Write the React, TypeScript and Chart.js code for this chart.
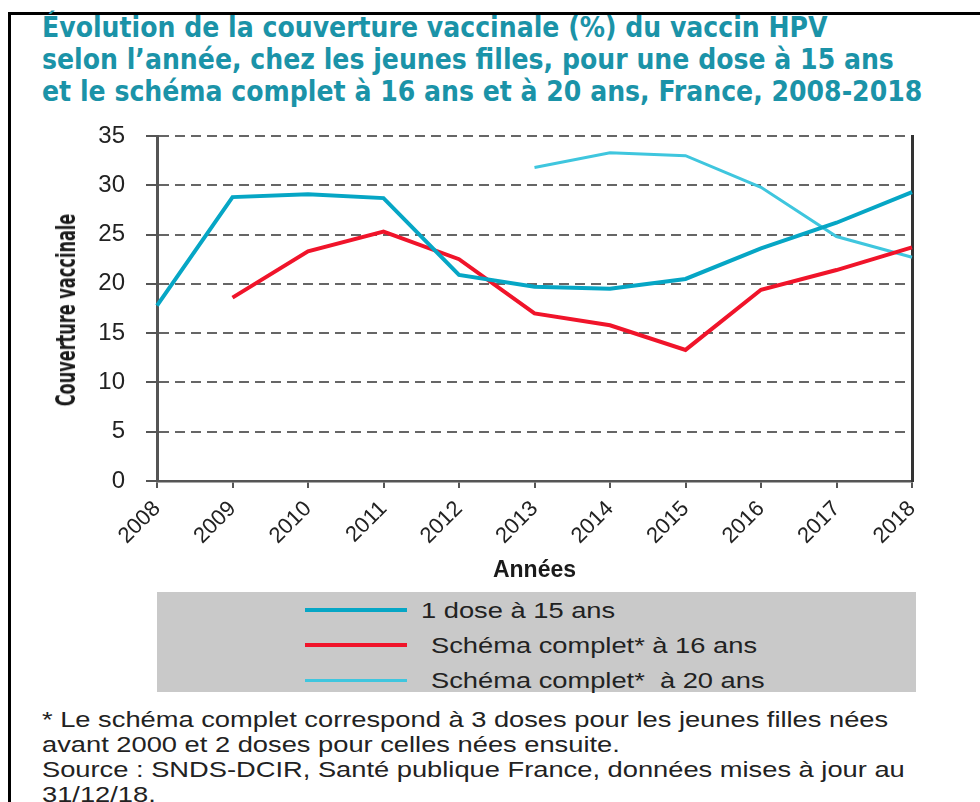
import React, { useEffect, useRef } from "react";
import { Chart, registerables } from "chart.js";

Chart.register(...registerables);

const years = ["2008", "2009", "2010", "2011", "2012", "2013", "2014", "2015", "2016", "2017", "2018"];
const dose15 = [17.8, 28.8, 29.1, 28.7, 20.9, 19.7, 19.5, 20.5, 23.6, 26.2, 29.3];
const complet16 = [null, 18.6, 23.3, 25.3, 22.5, 17.0, 15.8, 13.3, 19.4, 21.4, 23.7];
const complet20 = [null, null, null, null, null, 31.8, 33.3, 33.0, 29.8, 24.8, 22.7];
const seriesLabels = ["1 dose à 15 ans", "Schéma complet* à 16 ans", "Schéma complet*  à 20 ans"];
const seriesColors = ["#06a6c5", "#f0142a", "#3fc6de"];
const seriesWidths = [4, 4, 3];
const titleLines = [
  "Évolution de la couverture vaccinale (%) du vaccin HPV",
  "selon l’année, chez les jeunes filles, pour une dose à 15 ans",
  "et le schéma complet à 16 ans et à 20 ans, France, 2008-2018",
];
const noteLines = [
  "* Le schéma complet correspond à 3 doses pour les jeunes filles nées",
  "avant 2000 et 2 doses pour celles nées ensuite.",
  "Source : SNDS-DCIR, Santé publique France, données mises à jour au",
  "31/12/18.",
];
const yTitle = "Couverture vaccinale";
const xTitle = "Années";

const NARROW = "'Liberation Sans Narrow', 'DejaVu Sans Condensed', 'Liberation Sans', Arial, sans-serif";
const SANS = "'Liberation Sans', Arial, sans-serif";

export default function App() {
  const ref = useRef<HTMLCanvasElement | null>(null);

  useEffect(() => {
    if (!ref.current) return;
    const chart = new Chart(ref.current, {
      type: "line",
      data: {
        labels: years,
        datasets: [dose15, complet16, complet20].map((d, i) => ({
          label: seriesLabels[i],
          data: d,
          borderColor: seriesColors[i],
          backgroundColor: seriesColors[i],
          borderWidth: seriesWidths[i],
          pointRadius: 0,
          tension: 0,
          fill: false,
          spanGaps: false,
          yAxisID: "y",
        })),
      },
      options: {
        animation: false,
        responsive: false,
        maintainAspectRatio: false,
        layout: { padding: { top: 26, right: 68, left: 0, bottom: 0 } },
        plugins: { legend: { display: false }, tooltip: { enabled: false } },
        scales: {
          x: {
            offset: false,
            grid: {
              drawOnChartArea: false,
              drawTicks: true,
              tickLength: 7,
              tickColor: "#555",
              lineWidth: 2,
            },
            border: { display: true, color: "#555", width: 2.5 },
            ticks: {
              minRotation: 45,
              maxRotation: 45,
              padding: 8,
              color: "#222",
              font: { family: SANS, size: 22 },
              autoSkip: false,
            },
            title: {
              display: true,
              text: xTitle,
              color: "#1a1a1a",
              font: { family: SANS, size: 23, weight: "bold" },
              padding: { top: 0, bottom: 6 },
            },
            afterFit: (s: any) => {
              s.height = 109;
            },
          },
          y: {
            position: "left",
            min: 0,
            max: 35,
            ticks: {
              stepSize: 5,
              padding: 21,
              color: "#222",
              font: { family: SANS, size: 24 },
            },
            grid: {
              color: "#666",
              lineWidth: 2,
              tickBorderDash: [],
              tickColor: "#555",
              tickLength: 11,
            },
            border: { display: true, color: "#555", width: 3, dash: [10, 6], dashOffset: 0 },
            title: { display: false },
            afterFit: (s: any) => {
              s.width = 157;
              s.paddingTop = 0;
              s.paddingBottom = 0;
            },
          },
          y2: {
            position: "right",
            min: 0,
            max: 35,
            ticks: { display: false },
            grid: { drawOnChartArea: false, drawTicks: false },
            border: { display: true, color: "#333", width: 3 },
            afterFit: (s: any) => {
              s.width = 0;
              s.paddingTop = 0;
              s.paddingBottom = 0;
            },
          },
        },
      },
    });
    return () => chart.destroy();
  }, []);

  return (
    <div style={{ position: "absolute", left: 0, top: 0, width: 980, height: 802, background: "#fff", overflow: "hidden" }}>
      <div
        style={{
          position: "absolute",
          left: 8,
          top: 12,
          width: 990,
          height: 800,
          borderTop: "3px solid #000",
          borderLeft: "3px solid #000",
        }}
      />
      <div
        style={{
          position: "absolute",
          left: 42,
          top: 12,
          fontFamily: NARROW,
          fontWeight: "bold",
          fontSize: 28,
          lineHeight: "32px",
          color: "#1b93a8",
          whiteSpace: "nowrap",
        }}
      >
        {titleLines.map((t, i) => (
          <div key={i}>{t}</div>
        ))}
      </div>
      <canvas ref={ref} width={980} height={480} style={{ position: "absolute", left: 0, top: 110, width: 980, height: 480 }} />
      <div
        style={{
          position: "absolute",
          left: 66,
          top: 310,
          width: 0,
          height: 0,
        }}
      >
        <div
          style={{
            position: "absolute",
            left: 0,
            top: 0,
            transform: "translate(-50%, -50%) rotate(-90deg) scaleX(0.69)",
            fontFamily: NARROW,
            fontWeight: "bold",
            fontSize: 26,
            lineHeight: "30px",
            color: "#1a1a1a",
            whiteSpace: "nowrap",
          }}
        >
          {yTitle}
        </div>
      </div>
      <div
        style={{
          position: "absolute",
          left: 157,
          top: 592,
          width: 759,
          height: 100,
          background: "#c9c9c9",
        }}
      >
        {seriesLabels.map((l, i) => (
          <div key={i} style={{ position: "absolute", left: 0, top: 4 + i * 35, height: 30, width: 759 }}>
            <div
              style={{
                position: "absolute",
                left: 148,
                top: 14 - seriesWidths[i] / 2,
                width: 102,
                height: seriesWidths[i],
                background: seriesColors[i],
              }}
            />
            <div
              style={{
                position: "absolute",
                left: i === 0 ? 264 : 274,
                top: 0,
                lineHeight: "30px",
                fontFamily: SANS,
                fontSize: 22,
                color: "#222",
                whiteSpace: "pre",
                transform: "scaleX(1.24)",
                transformOrigin: "0 50%",
              }}
            >
              {l}
            </div>
          </div>
        ))}
      </div>
      <div
        style={{
          position: "absolute",
          left: 42,
          top: 707,
          fontFamily: SANS,
          fontSize: 22,
          lineHeight: "25px",
          color: "#222",
          whiteSpace: "nowrap",
          transform: "scaleX(1.24)",
          transformOrigin: "0 0",
        }}
      >
        {noteLines.map((t, i) => (
          <div key={i}>{t}</div>
        ))}
      </div>
    </div>
  );
}
